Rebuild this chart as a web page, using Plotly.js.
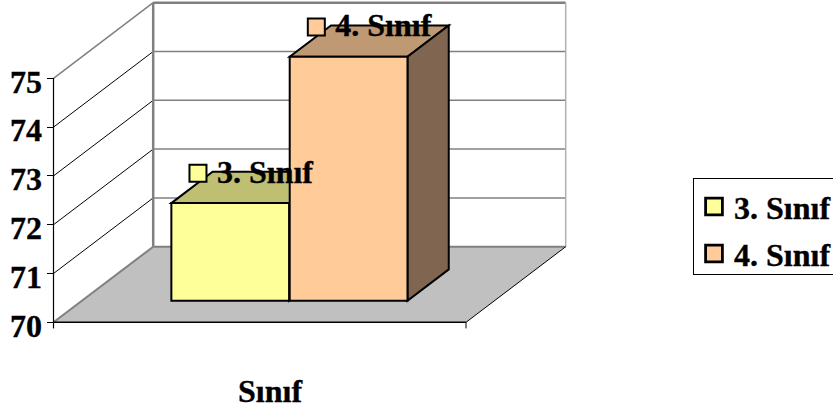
<!DOCTYPE html>
<html><head><meta charset="utf-8">
<script src="https://cdn.plot.ly/plotly-3.0.1.min.js"></script>
<style>html,body{margin:0;padding:0;background:#fff;overflow:hidden}#c{width:833px;height:409px}
svg text{stroke:#000;stroke-width:.35px}</style>
</head><body><div id="c"></div>
<script>
// Data
const categories = ["3. Sınıf", "4. Sınıf"];
const values = [72, 75];
const yTicks = [70, 71, 72, 73, 74, 75];
const axisTitle = "Sınıf";
// Colours per series: front, top, side
const frontColors = ["#FFFF99", "#FFCC99"];
const topColors = ["#BFBF73", "#BF9973"];
const sideColors = ["#80804D", "#806650"];

// Oblique 3D projection onto the 2D axes
const DX = 0.2417, DY = 1.549;          // shift per unit of depth
const BASE = 70, TOP = 75;
const D0 = 0.286, D1 = 0.70;            // bar depth extent
const BW = 0.2855;                      // bar width
const lefts = [0.2166, 0.5035];
const P = (u, v, d) => [u + d * DX, v + d * DY];
const poly = pts => "M" + pts.map(p => p[0] + "," + p[1]).join("L") + "Z";
const line = (a, b) => "M" + a[0] + "," + a[1] + "L" + b[0] + "," + b[1];
const face = (pts, fill, color, w) => ({type:"path", layer:"below", xref:"x", yref:"y", path:poly(pts), fillcolor:fill, line:{color:color||fill, width:w===undefined?0:w}});
const seg = (a, b, color, w) => ({type:"path", layer:"below", xref:"x", yref:"y", path:line(a,b), line:{color, width:w}});

const GREY = "#808080";
const FONT = {family:"Liberation Serif", size:32, weight:700, color:"#000"};
const shapes = [];
// floor
shapes.push(face([P(0,BASE,0),P(1,BASE,0),P(1,BASE,1),P(0,BASE,1)], "#C0C0C0"));
// back wall horizontals and left wall diagonals
yTicks.slice(1).forEach(v => {
  const top = v === TOP;
  shapes.push(seg(P(0,v,1), P(1,v,1), GREY, top ? 2.5 : 1.5));
  shapes.push(seg(P(0,v,0), P(0,v,1), top ? GREY : "#000", top ? 1.5 : 1));
});
shapes.push(seg(P(1,BASE,1), P(1,TOP,1), "#B0B0B0", 1.5));
shapes.push(seg(P(0,BASE,1), P(1,BASE,1), GREY, 2));
shapes.push(seg(P(0,BASE,1), P(0,TOP,1), GREY, 2.5));
shapes.push(seg(P(0,BASE,0), P(0,BASE,1), GREY, 2));
shapes.push(seg(P(1,BASE,0), P(1,BASE,1), "#000", 1));
// axes lines
shapes.push(seg(P(0,BASE-0.125,0), P(0,TOP,0), "#000", 1.2));
shapes.push(seg(P(0,BASE,0), P(1,BASE,0), "#000", 1.5));
shapes.push(seg(P(1,BASE-0.125,0), P(1,BASE,0), "#000", 1));
// bar tops and sides (front faces are bar traces)
values.forEach((v, i) => {
  const l = lefts[i], r = l + BW;
  shapes.push(face([P(l,v,D0),P(r,v,D0),P(r,v,D1),P(l,v,D1)], topColors[i], "#000", 2));
  shapes.push(face([P(r,BASE,D0),P(r,v,D0),P(r,v,D1),P(r,BASE,D1)], sideColors[i], "#000", 2));
});

const traces = [];
categories.forEach((name, i) => {
  const c = P(lefts[i] + BW / 2, BASE, D0);
  traces.push({type:"bar", name, x:[c[0]], y:[values[i] - BASE], base:[c[1]], width:BW,
    marker:{color:frontColors[i], line:{color:"#000", width:2}}, hoverinfo:"skip"});
});
categories.forEach((name, i) => {
  const f = P(lefts[i] + 0.0645, values[i] + 0.61, D0);
  traces.push({type:"scatter", mode:"markers", x:[f[0]], y:[f[1]],
    showlegend:false, hoverinfo:"skip", cliponaxis:false,
    marker:{symbol:"square", size:17, color:frontColors[i], line:{color:"#000", width:2}}});
  traces.push({type:"scatter", mode:"text", x:[f[0] + 0.046], y:[f[1] - 0.03], text:[name], textposition:"middle right",
    showlegend:false, hoverinfo:"skip", cliponaxis:false, textfont:FONT});
});

const W = 833, H = 409, X0 = 53.5, UX = 412.5, Y0 = 322.3, UY = 48.8;
const layout = {
  width:W, height:H, margin:{l:0,r:0,t:0,b:0,autoexpand:false}, paper_bgcolor:"#fff", plot_bgcolor:"rgba(0,0,0,0)",
  barmode:"overlay", shapes, font:FONT,
  xaxis:{range:[-X0/UX,(W-X0)/UX], visible:false, fixedrange:true},
  yaxis:{range:[BASE-(H-Y0)/UY, BASE+Y0/UY], anchor:"free", position:X0/W, side:"left",
    tickmode:"array", tickvals:yTicks, ticktext:yTicks.map(String), ticks:"outside", ticklen:7, tickwidth:1, tickcolor:"#000",
    ticklabelstandoff:-2,
    showgrid:false, zeroline:false, showline:false, fixedrange:true, tickfont:FONT},
  legend:{x:693/W, xanchor:"left", y:1-178/H, yanchor:"top", bgcolor:"#fff", bordercolor:"#000", borderwidth:1,
    font:FONT, traceorder:"normal"},
  annotations:[{xref:"paper", yref:"paper", x:270/W, y:1-391/H, xanchor:"center", yanchor:"middle", text:axisTitle, showarrow:false, font:FONT}]
};
Plotly.newPlot("c", traces, layout, {displayModeBar:false, staticPlot:true}).then(() => {
  document.querySelectorAll(".legendpoints path").forEach(p => {
    p.setAttribute("transform", (p.getAttribute("transform") || "") + " scale(1.4)");
  });
  // Legend spacing: wider entries, box running past the right edge of the page
  const lg = document.querySelector(".legend");
  if (lg) lg.setAttribute("transform", "translate(693,178)");
  const sb = document.querySelector(".legend .scrollbox");
  if (sb) sb.removeAttribute("clip-path");
  const bg = document.querySelector(".legend .bg");
  if (bg) { bg.setAttribute("width", 200); bg.setAttribute("height", 96); }
  const ys = [28.5, 75.5];
  document.querySelectorAll(".legend .traces").forEach((t, i) => {
    if (i < ys.length) t.setAttribute("transform", "translate(1," + ys[i] + ")");
  });
  // Tick labels sit slightly below their ticks in the reference
  document.querySelectorAll(".ytick text").forEach(t => {
    const y = parseFloat(t.getAttribute("y"));
    t.setAttribute("y", y + 3);
  });
});
</script></body></html>
